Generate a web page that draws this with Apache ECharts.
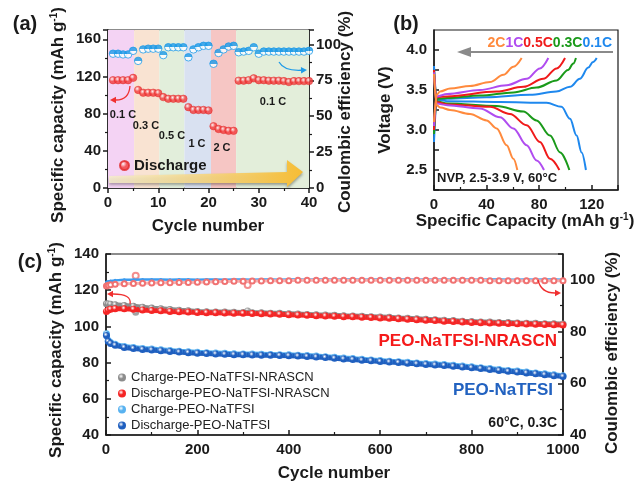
<!DOCTYPE html>
<html>
<head>
<meta charset="utf-8">
<script src="https://cdn.jsdelivr.net/npm/echarts@6/dist/echarts.min.js"></script>
<style>
  html, body { margin: 0; padding: 0; background: #fff; }
  #chart { width: 638px; height: 484px; }
</style>
</head>
<body>
<div id="chart"></div>
<script>
var FONT = 'Liberation Sans, Arial, sans-serif';

// ---- panel (a): rate performance ----
var cyclesA = [1,2,3,4,5,6,7,8,9,10,11,12,13,14,15,16,17,18,19,20,21,22,23,24,25,26,27,28,29,30,31,32,33,34,35,36,37,38,39,40];
var dischargeA = [116,116,116,116,118.5, 105.5,102.5,102.5,102.5,102, 97.8,96,96,96,96, 87,84,84,84,83.5,
  66.5,63.5,62.5,61.5,61.5, 115.5,115.5,116,118,116, 116,115.5,115.5,115.5,115,114,115,115,115,115];
var ceA = [93.5,93.5,93,93,95.5, 88.5,96.5,97,97,97, 92.5,98,98,98,98, 91,96.5,98,99,99,
  86.5,94,96.5,98.5,99, 94.5,95,95.5,98,93.5, 95,95,95,95,95,95,95,95,95,95.5];
var rateEdges = [0, 5.2, 10.2, 15.2, 20.5, 25.5, 40];
var rateColors = ['#f4d3f4', '#f9e3d2', '#e2eedb', '#d9e1f1', '#f6c6c4', '#e3eeda'];
var rateLabels = ['0.1 C', '0.3 C', '0.5 C', '1 C', '2 C', '0.1 C'];

// ---- panel (b): charge / discharge profiles [capacity, voltage] ----
var chg01 = [[0,2.85],[2,3.38],[10,3.39],[40,3.41],[73,3.44],[93,3.48],[103.5,3.54],[111,3.64],[117.4,3.78],[121,3.85],[123.8,3.9]];
var dis01 = [[0,3.8],[2,3.38],[10,3.36],[50,3.35],[85.7,3.34],[97,3.29],[103.5,3.14],[108.5,2.93],[112.3,2.72],[115.6,2.5]];
var chg03 = [[0,2.95],[2,3.39],[10,3.4],[35,3.43],[60.4,3.47],[78,3.53],[93.3,3.62],[102,3.75],[106,3.83],[108,3.9]];
var dis03 = [[0,3.75],[2,3.36],[10,3.33],[47.7,3.3],[68,3.23],[78,3.12],[88.3,2.93],[96,2.72],[103,2.5]];
var chg05 = [[0,3.0],[2,3.41],[10,3.42],[47.7,3.48],[68,3.54],[83.2,3.64],[93.3,3.77],[99.7,3.9]];
var dis05 = [[0,3.75],[2,3.35],[10,3.32],[42.6,3.29],[57.8,3.2],[70.5,3.06],[80.6,2.85],[88.3,2.64],[95.4,2.5]];
var chg1 = [[0,3.05],[2,3.42],[10,3.45],[35,3.5],[55.3,3.56],[70.5,3.64],[80.6,3.77],[87,3.9]];
var dis1 = [[0,3.72],[2,3.33],[10,3.31],[35,3.27],[50.2,3.16],[60.4,3.02],[70.5,2.81],[78.1,2.62],[83.7,2.5]];
var chg2 = [[0,3.1],[2,3.44],[4.6,3.48],[12.2,3.52],[27.4,3.55],[42.6,3.6],[52.8,3.69],[60.4,3.79],[66.7,3.9]];
var dis2 = [[0,3.7],[2,3.31],[5,3.28],[12.2,3.25],[27.4,3.2],[40,3.12],[47.7,3.02],[55.3,2.81],[60.4,2.64],[63.4,2.5]];

// ---- panel (c): long cycling ----
var cyclesC = [1,5,10,20,40,60,80,100,120,140,160,180,200,220,240,260,280,300,320,340,360,380,400,420,440,460,480,
  500,520,540,560,580,600,620,640,660,680,700,720,740,760,780,800,820,840,860,880,900,920,940,960,980,1000];
var chgNR = [112.5,112.4,112.3,112.0, 111.6,111.2,110.6,110.1, 109.7,109.3,108.9,108.6, 108.3,108.1,108.0,107.9,
  107.8,107.7,107.6,107.5, 107.3,107.2,107.0,106.8, 106.6,106.4,106.3,106.1, 105.9,105.8,105.6,105.4,
  105.2,105.0,104.7,104.5, 104.2,103.9,103.7,103.4, 103.2,102.9,102.7,102.5, 102.4,102.2,102.1,101.9,
  101.8,101.7,101.5,101.4, 101.3];
var disNR = [108.3,109.0,109.5,109.8, 109.7,109.5,109.1,108.8, 108.6,108.3,108.1,107.9, 107.7,107.6,107.5,107.4,
  107.3,107.2,107.1,107.0, 106.8,106.7,106.5,106.3, 106.1,105.9,105.8,105.6, 105.4,105.3,105.1,104.9,
  104.7,104.5,104.2,104.0, 103.7,103.4,103.2,102.9, 102.7,102.4,102.2,102.0, 101.9,101.7,101.6,101.4,
  101.3,101.2,101.0,100.9, 100.8];
var chgNa = [96.0,92.2,91.1,90.1, 88.9,88.3,87.8,87.5, 87.1,86.7,86.3,86.0, 85.7,85.5,85.3,85.1,
  84.9,84.8,84.7,84.6, 84.5,84.4,84.3,84.1, 83.9,83.6,83.3,82.9, 82.5,82.2,81.8,81.5,
  81.1,80.8,80.5,80.2, 79.8,79.5,79.2,78.9, 78.5,78.1,77.7,77.2, 76.7,76.2,75.7,75.3,
  74.8,74.3,73.8,73.3, 72.8];
var disNa = [95.0,91.6,90.6,89.6, 88.4,87.8,87.3,87.0, 86.6,86.2,85.8,85.5, 85.2,85.0,84.8,84.6,
  84.4,84.3,84.2,84.1, 84.0,83.9,83.8,83.6, 83.4,83.1,82.8,82.4, 82.0,81.7,81.3,81.0,
  80.6,80.3,80.0,79.7, 79.3,79.0,78.7,78.4, 78.0,77.6,77.2,76.7, 76.2,75.7,75.2,74.8,
  74.3,73.8,73.3,72.8, 72.3];
var ceNa = [99.2,99.4,99.6,99.8, 100.0,100.0,100.1,100.1, 100.1,100.0,100.1,100.1, 100.0,100.1,100.1,100.0,
  100.1,100.1,100.0,100.1, 100.1,100.0,100.1,100.1, 100.0,100.1,100.1,100.0, 100.1,100.1,100.0,100.1,
  100.1,100.0,100.1,100.1, 100.0,100.1,100.0,100.1, 100.0,100.1,100.1,100.0, 100.1,100.1,100.0,100.0,
  100.1,100.0,100.1,100.1, 100.0];
var ceNR = [97.6,97.9,98.1,98.3, 98.5,98.6,98.7,98.8, 98.9,98.9,99.0,99.0, 99.1,99.2,99.3,99.4,
  99.5,99.5,99.6,99.6, 99.7,99.7,99.7,99.8, 99.8,99.8,99.8,99.8, 99.8,99.8,99.8,99.8,
  99.8,99.8,99.8,99.8, 99.8,99.8,99.8,99.8, 99.8,99.8,99.8,99.8, 99.7,99.7,99.7,99.7,
  99.7,99.7,99.7,99.7, 99.7];
var oddCycles = [65, 310];
var oddChgNR = [107.8, 108.5];
var oddCeNR = [101.6, 98.0];

function pairs(xs, ys) { return xs.map(function (x, i) { return [x, ys[i]]; }); }
function sphere(c) {
  return { type: 'radial', x: 0.38, y: 0.35, r: 0.7,
    colorStops: [{ offset: 0, color: '#ffffff' }, { offset: 0.45, color: c }, { offset: 1, color: c }] };
}
function halfBall(c) {
  return { type: 'linear', x: 0, y: 0, x2: 0, y2: 1,
    colorStops: [{ offset: 0, color: c }, { offset: 0.5, color: c }, { offset: 0.5, color: '#fff' }, { offset: 1, color: '#fff' }] };
}
function axis(extra, inside) {
  return Object.assign({
    type: 'value',
    splitLine: { show: false },
    axisLine: { onZero: false, lineStyle: { color: '#1a1a1a', width: 1.5 } },
    axisTick: { inside: inside, length: 5, lineStyle: { width: 1.5 } },
    minorTick: { show: true, splitNumber: 2, length: 3, lineStyle: { color: '#1a1a1a', width: 1.2 } },
    axisLabel: { color: '#1a1a1a', fontSize: 15, fontWeight: 'bold', fontFamily: FONT, margin: 7,
      formatter: function (v) { return String(v); } }
  }, extra);
}
function title(txt, x, y, rot, sup) {
  var t = sup ? '{t|' + txt + '}{s|-1}{t|)}' : '{t|' + txt + '}';
  return { type: 'text', x: x, y: y, rotation: rot ? Math.PI / 2 : 0, z: 100,
    style: { text: t, align: 'center', verticalAlign: 'middle', fill: '#1a1a1a',
      rich: { t: { fontSize: 17, fontWeight: 'bold', fontFamily: FONT },
              s: { fontSize: 10, fontWeight: 'bold', fontFamily: FONT, verticalAlign: 'top' } } } };
}
function txt(s, x, y, size, color, align, weight) {
  return { type: 'text', x: x, y: y, z: 100,
    style: { text: s, fontSize: size, fontWeight: weight || 'bold', fontFamily: FONT, fill: color || '#1a1a1a',
      align: align || 'center', verticalAlign: 'middle' } };
}
function curveArrow(x1, y1, cx, cy, x2, y2, color) {
  var a = Math.atan2(y2 - cy, x2 - cx), L = 6, W = 3.2;
  var bx = x2 - L * Math.cos(a), by = y2 - L * Math.sin(a);
  return [
    { type: 'bezierCurve', z: 100, shape: { x1: x1, y1: y1, cpx1: cx, cpy1: cy, x2: bx, y2: by },
      style: { stroke: color, lineWidth: 1.3, fill: null } },
    { type: 'polygon', z: 100, shape: { points: [[x2, y2],
        [bx - W * Math.sin(a), by + W * Math.cos(a)], [bx + W * Math.sin(a), by - W * Math.cos(a)]] },
      style: { fill: color } }
  ];
}

var bands = rateColors.map(function (c, i) {
  return [{ xAxis: rateEdges[i], itemStyle: { color: c } }, { xAxis: rateEdges[i + 1] }];
});

var profColors = { c01: '#1e88ee', c03: '#1a9a1a', c05: '#f01a1a', c1: '#b04cf0', c2: '#ff8a3d' };
function prof(data, color) {
  return { type: 'line', xAxisIndex: 1, yAxisIndex: 2, data: data, smooth: 0.35, smoothMonotone: 'x',
    symbol: 'none', lineStyle: { color: color, width: 2 }, silent: true };
}
function band(name, data, color, y, w, s) {
  return { name: name, type: 'line', xAxisIndex: 2, yAxisIndex: y, data: data, symbol: 'circle',
    symbolSize: s, showAllSymbol: true, itemStyle: { color: sphere(color) },
    lineStyle: { color: color, width: w }, silent: true };
}

var myChart = echarts.init(document.getElementById('chart'), null, { renderer: 'canvas' });
var option = {
  animation: false,
  backgroundColor: '#fff',
  textStyle: { fontFamily: FONT },
  grid: [
    { left: 108, top: 30, width: 201, height: 158, show: true, borderColor: '#1a1a1a', borderWidth: 1.2 },
    { left: 434, top: 30, width: 184, height: 160, show: true, borderColor: '#1a1a1a', borderWidth: 1.2 },
    { left: 106, top: 254, width: 457, height: 181, show: true, borderColor: '#1a1a1a', borderWidth: 1.2 }
  ],
  xAxis: [
    axis({ gridIndex: 0, min: 0, max: 40, interval: 10 }, false),
    axis({ gridIndex: 1, min: 0, max: 140, interval: 40 }, true),
    axis({ gridIndex: 2, min: 0, max: 1000, interval: 200 }, true)
  ],
  yAxis: [
    axis({ gridIndex: 0, min: 0, max: 170, interval: 40 }, false),
    axis({ gridIndex: 0, min: 0, max: 110, interval: 25, position: 'right' }, false),
    axis({ gridIndex: 1, min: 2.25, max: 4.25, interval: 0.25, minorTick: { show: false } }, true),
    axis({ gridIndex: 2, min: 40, max: 140, interval: 20 }, true),
    axis({ gridIndex: 2, min: 40, max: 110, interval: 20, position: 'right' }, true)
  ],
  legend: [
    { data: ['Discharge'], left: 114, top: 153, icon: 'circle', itemWidth: 9, itemHeight: 9,
      textStyle: { fontSize: 15, fontWeight: 'bold', color: '#1a1a1a', fontFamily: FONT } },
    { data: ['Charge-PEO-NaTFSI-NRASCN', 'Discharge-PEO-NaTFSI-NRASCN', 'Charge-PEO-NaTFSI', 'Discharge-PEO-NaTFSI'],
      left: 113, top: 366, orient: 'vertical', icon: 'circle', itemWidth: 8, itemHeight: 8, itemGap: 3,
      textStyle: { fontSize: 13, color: '#222', fontFamily: FONT, lineHeight: 13 } }
  ],
  series: [
    { name: 'Discharge', type: 'scatter', xAxisIndex: 0, yAxisIndex: 0, data: pairs(cyclesA, dischargeA),
      symbolSize: 7.5, itemStyle: { color: sphere('#f23a3a'), borderColor: '#e02828', borderWidth: 0.6 }, z: 5,
      markArea: { silent: true, data: bands } },
    { name: 'CE-a', type: 'scatter', xAxisIndex: 0, yAxisIndex: 1, data: pairs(cyclesA, ceA),
      symbolSize: 7.5, itemStyle: { color: halfBall('#1e9be8'), borderColor: '#1e9be8', borderWidth: 1 }, z: 5 },

    prof(chg01, profColors.c01), prof(dis01, profColors.c01),
    prof(chg03, profColors.c03), prof(dis03, profColors.c03),
    prof(chg05, profColors.c05), prof(dis05, profColors.c05),
    prof(chg1, profColors.c1), prof(dis1, profColors.c1),
    prof(chg2, profColors.c2), prof(dis2, profColors.c2),

    { name: 'CE-Na', type: 'line', xAxisIndex: 2, yAxisIndex: 4, data: pairs(cyclesC, ceNa), symbol: 'circle',
      symbolSize: 3, showAllSymbol: true, itemStyle: { color: '#3a9cf0' }, lineStyle: { color: '#3a9cf0', width: 2.5 } },
    { name: 'CE-NR', type: 'line', xAxisIndex: 2, yAxisIndex: 4, data: pairs(cyclesC, ceNR), symbol: 'emptyCircle',
      symbolSize: 5, showAllSymbol: true, itemStyle: { color: '#f07272', borderWidth: 1 },
      lineStyle: { color: '#f6b0b0', width: 3 } },
    { name: 'CE-NR-odd', type: 'scatter', xAxisIndex: 2, yAxisIndex: 4, data: pairs(oddCycles, oddCeNR),
      symbol: 'emptyCircle', symbolSize: 6, itemStyle: { color: '#f07272', borderWidth: 1 } },
    band('Charge-PEO-NaTFSI', pairs(cyclesC, chgNa), '#58b2f0', 3, 5, 7),
    band('Discharge-PEO-NaTFSI', pairs(cyclesC, disNa), '#1f5fbf', 3, 5, 7),
    band('Charge-PEO-NaTFSI-NRASCN', pairs(cyclesC, chgNR), '#8c8c8c', 3, 5, 7),
    { name: 'gray-odd', type: 'scatter', xAxisIndex: 2, yAxisIndex: 3, data: pairs(oddCycles, oddChgNR),
      symbolSize: 7, itemStyle: { color: sphere('#8c8c8c') } },
    band('Discharge-PEO-NaTFSI-NRASCN', pairs(cyclesC, disNR), '#f52525', 3, 5, 7)
  ],
  graphic: [
    txt('(a)', 25, 24, 20), txt('(b)', 406, 24, 20), txt('(c)', 30, 262, 20),
    title('Specific capacity (mAh g', 58, 115, true, true),
    title('Coulombic efficiency (%)', 345, 112, true, false),
    title('Cycle number', 208, 226, false, false),
    title('Voltage (V)', 385, 110, true, false),
    title('Specific Capacity (mAh g', 525, 221, false, true),
    title('Specific capacity (mAh g', 56, 350, true, true),
    title('Coulombic efficiency (%)', 612, 353, true, false),
    title('Cycle number', 334, 473, false, false),
    { type: 'polygon', z: 50,
      shape: { points: [[109, 176], [287, 172], [287, 160], [303, 172], [287, 187], [287, 183], [109, 183]] },
      style: { fill: { type: 'linear', x: 0, y: 0, x2: 1, y2: 0,
        colorStops: [{ offset: 0, color: 'rgba(246,238,205,0.85)' }, { offset: 1, color: '#f6bd35' }] },
        shadowBlur: 3, shadowColor: 'rgba(0,0,0,0.35)', shadowOffsetY: 2 } },
    txt(rateLabels[0], 123, 115, 11), txt(rateLabels[1], 146, 126, 11), txt(rateLabels[2], 172, 136, 11),
    txt(rateLabels[3], 197, 144, 11), txt(rateLabels[4], 222, 148, 11), txt(rateLabels[5], 273, 102, 11),
    { type: 'line', z: 100, shape: { x1: 470, y1: 52, x2: 613, y2: 52 }, style: { stroke: '#8a8a8a', lineWidth: 2 } },
    { type: 'polygon', z: 100, shape: { points: [[457, 52], [471, 47], [471, 57]] }, style: { fill: '#8a8a8a' } },
    { type: 'text', x: 612, y: 43, z: 100, style: {
      text: '{o|2C}{p|1C}{r|0.5C}{g|0.3C}{b|0.1C}', align: 'right', verticalAlign: 'middle',
      rich: { o: { fill: profColors.c2, fontSize: 14, fontWeight: 'bold', fontFamily: FONT },
              p: { fill: profColors.c1, fontSize: 14, fontWeight: 'bold', fontFamily: FONT },
              r: { fill: profColors.c05, fontSize: 14, fontWeight: 'bold', fontFamily: FONT },
              g: { fill: profColors.c03, fontSize: 14, fontWeight: 'bold', fontFamily: FONT },
              b: { fill: profColors.c01, fontSize: 14, fontWeight: 'bold', fontFamily: FONT } } } },
    txt('NVP, 2.5-3.9 V, 60°C', 437, 178, 13, '#1a1a1a', 'left'),
    txt('PEO-NaTFSI-NRASCN', 557, 341, 17, '#f51a1a', 'right'),
    txt('PEO-NaTFSI', 553, 390, 17, '#2262c0', 'right'),
    txt('60°C, 0.3C', 557, 423, 14, '#1a1a1a', 'right')
  ]
    .concat(curveArrow(130, 86, 129, 100, 110, 100, '#f03030'))
    .concat(curveArrow(279, 62, 284, 71, 307, 70, '#1e9be8'))
    .concat(curveArrow(130, 304, 132, 294, 107, 294, '#f03030'))
    .concat(curveArrow(538, 280, 541, 293, 561, 293, '#f03030'))
};
option.xAxis[1].axisLabel.showMaxLabel = false;
option.yAxis[0].axisLabel.showMaxLabel = false;
option.yAxis[4].axisLabel.showMaxLabel = false;
option.yAxis[2].axisLabel.formatter = function (v) { return (Math.round(v * 4) % 2 === 0) ? v.toFixed(1) : ''; };
option.yAxis[2].axisLabel.showMaxLabel = false;
myChart.setOption(option);
window.addEventListener('resize', function () {
  myChart.resize();
});
</script>
</body>
</html>
